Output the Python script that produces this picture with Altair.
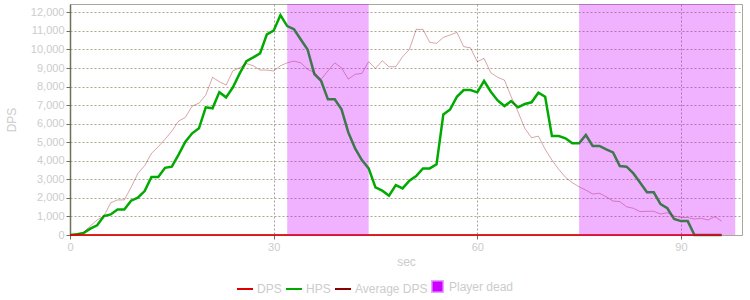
import altair as alt
import pandas as pd

seconds = list(range(97))
dps = [0] * 97
hps = [0, 40, 100, 340, 520, 1020, 1110, 1380, 1380, 1850, 2010, 2370, 3125, 3125, 3620, 3680,
       4330, 5030, 5480, 5750, 6880, 6830, 7700, 7420, 7960, 8710, 9375, 9570, 9790, 10810, 11010,
       11850, 11260, 11090, 10540, 10000, 8675, 8300, 7310, 7310, 6770, 5530, 4670, 4040, 3590,
       2570, 2390, 2120, 2690, 2510, 2930, 3180, 3590, 3590, 3810, 6500, 6770, 7450, 7810, 7810,
       7690, 8300, 7720, 7250, 6950, 7220, 6880, 7060, 7150, 7670, 7450, 5330, 5330, 5210, 4940,
       4940, 5390, 4800, 4800, 4620, 4450, 3720, 3680, 3320, 2820, 2300, 2300, 1670, 1440, 860,
       750, 750, 0, 0, 0, 0, 0]
avg_dps = [0, 50, 150, 485, 810, 1020, 1740, 1890, 1890, 2570, 3320, 3740, 4400, 4760, 5160, 5600,
           6140, 6340, 6950, 7100, 7540, 8500, 8260, 8080, 8850, 9010, 9240, 9120, 8890, 8890, 8840,
           9120, 9280, 9375, 9280, 8930, 8760, 8400, 8840, 9280, 9010, 8400, 8660, 8710, 9340, 8980,
           9390, 9070, 9070, 9610, 10000, 11080, 11080, 10380, 10330, 10650, 10780, 10920, 10150,
           10090, 9340, 9520, 8740, 8500, 8350, 7450, 6640, 5750, 5240, 5330, 4620, 4040, 3540, 3110,
           2820, 2600, 2420, 2210, 2250, 2060, 1830, 1800, 1520, 1440, 1260, 1280, 1280, 1130, 1200,
           1020, 950, 940, 860, 900, 810, 990, 750]
dead_start = [32, 75]
dead_end = [44, 98]

line_names = ["DPS", "HPS", "Average DPS"]
line_colors = ["#dd0000", "#00aa00", "#8b0000"]
dead_name = ["Player dead"]
dead_color = ["#cc00ff"]

rows = []
for name, vals in [("HPS", hps), ("Average DPS", avg_dps), ("DPS", dps)]:
    for s, v in zip(seconds, vals):
        rows.append({"sec": s, "value": v, "series": name})
lines_df = pd.DataFrame(rows)
dead_df = pd.DataFrame({"start": dead_start, "end": dead_end, "series": dead_name * len(dead_start)})

FONT = "Liberation Sans"
TXT = "#cccccc"
GRID = "#aaa690"

line_legend = alt.Legend(
    title=None, orient="none", direction="horizontal", legendX=166, legendY=276,
    labelFont=FONT, labelFontSize=12, labelColor=TXT, labelOffset=3, columnPadding=0,
    symbolType="stroke", symbolSize=256, symbolStrokeWidth=2, symbolOpacity=1, padding=0,
)
dead_legend = alt.Legend(
    title=None, orient="none", direction="horizontal", legendX=361, legendY=276,
    labelFont=FONT, labelFontSize=12, labelColor=TXT, labelOffset=5,
    symbolType="square", symbolSize=130, symbolStrokeColor="#e8a0ff", symbolStrokeWidth=1.5,
    symbolOpacity=1, padding=0,
)

line_scale = alt.Scale(domain=line_names, range=line_colors)
x_enc = alt.X("sec:Q", scale=alt.Scale(domain=[0, 99], nice=False),
              axis=alt.Axis(values=[0, 30, 60, 90], title="sec", grid=True, labelFlush=False))
y_enc = alt.Y("value:Q", scale=alt.Scale(domain=[0, 12450], nice=False),
              axis=alt.Axis(values=list(range(0, 13000, 1000)), format=",.0f", title="DPS"))


def line_layer(name, width, opacity):
    return alt.Chart(lines_df).transform_filter(
        alt.datum.series == name
    ).mark_line(strokeWidth=width, opacity=opacity).encode(
        x=x_enc, y=y_enc,
        stroke=alt.Stroke("series:N", scale=line_scale, legend=line_legend),
    )


hps_line = line_layer("HPS", 2.5, 1)
avg_line = line_layer("Average DPS", 1, 0.35)
dps_line = line_layer("DPS", 2, 0.85)

dead = alt.Chart(dead_df).mark_rect(opacity=0.3).encode(
    x="start:Q",
    x2="end:Q",
    fill=alt.Fill("series:N", scale=alt.Scale(domain=dead_name, range=dead_color), legend=dead_legend),
)

chart = alt.layer(hps_line, avg_line, dps_line, dead).properties(
    width=672, height=231,
    autosize=alt.AutoSizeParams(type="none"),
    padding={"left": 70, "top": 4, "right": 8, "bottom": 65},
).configure_view(stroke="#aaa898", strokeWidth=1).configure_axis(
    labelFont=FONT, labelFontSize=11, labelColor=TXT,
    titleFont=FONT, titleFontSize=12, titleColor=TXT, titleFontWeight="normal",
    gridColor=GRID, gridDash=[2, 2], gridWidth=1, gridOpacity=1,
    domainColor="#707058", tickColor="#707058", tickSize=4,
).configure_axisX(
    domain=False, labelPadding=2, titlePadding=4, gridColor="#a8a0a0",
).configure_axisY(
    domainWidth=1.5, labelPadding=2, titlePadding=12,
)

chart.save("out.html", embed_options={"renderer": "svg", "actions": False})
